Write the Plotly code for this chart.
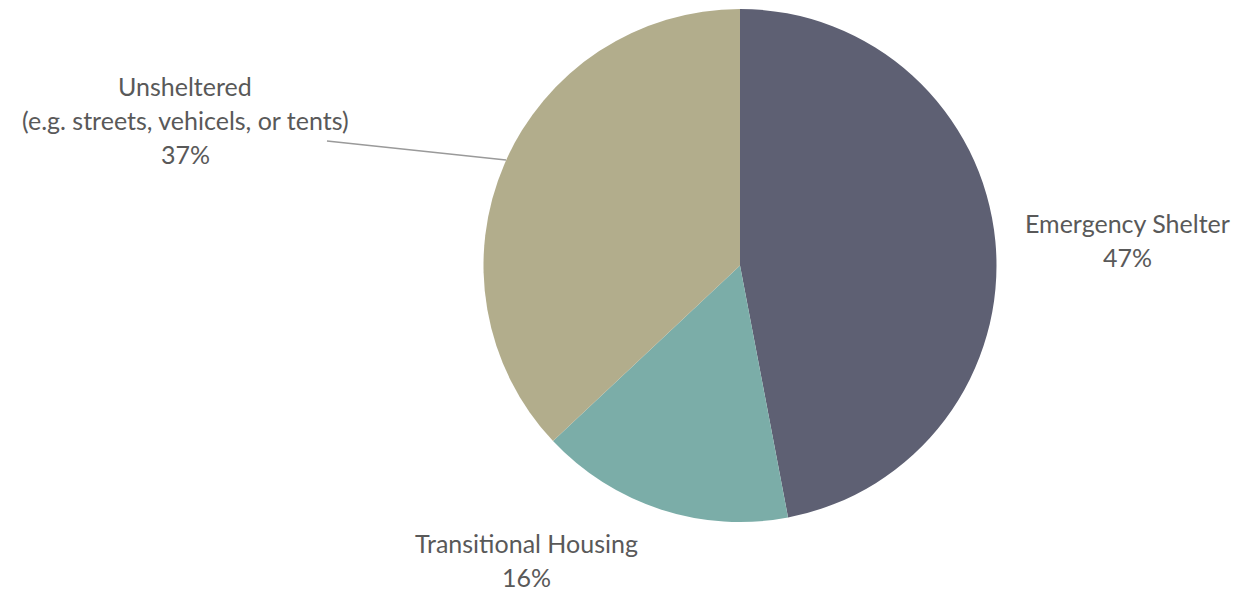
import plotly.graph_objects as go

categories = ["Emergency Shelter", "Transitional Housing", "Unsheltered"]
values = [47, 16, 37]
label_lines = [["Emergency Shelter"], ["Transitional Housing"],
               ["Unsheltered", "(e.g. streets, vehicels, or tents)"]]
colors = ["#5e6073", "#7bada8", "#b2ad8c"]

W, H = 1239, 591
cx, cy, r = 740, 265.5, 256.5

fig = go.Figure(go.Pie(
    labels=categories, values=values, sort=False, direction="clockwise",
    rotation=0, textinfo="none", hoverinfo="label+percent",
    marker=dict(colors=colors, line=dict(width=0)),
    domain=dict(x=[(cx - r) / W, (cx + r) / W], y=[1 - (cy + r) / H, 1 - (cy - r) / H]),
    showlegend=False,
))

# label block centres (pixels) and line spacing
label_pos = [(1127, 223), (526, 543), (185, 86)]
line_gap = 34
font = dict(family="Lato, sans-serif", size=25, color="#595959")
for cat_lines, val, (px, py) in zip(label_lines, values, label_pos):
    lines = cat_lines + [f"{val}%"]
    for i, t in enumerate(lines):
        fig.add_annotation(x=px / W, y=1 - (py + i * line_gap) / H, xref="paper", yref="paper",
                           text=t, showarrow=False, font=font, xanchor="center", yanchor="middle")

# leader line for Unsheltered
fig.add_shape(type="line", xref="paper", yref="paper",
              x0=327 / W, y0=1 - 141 / H, x1=506 / W, y1=1 - 160 / H,
              line=dict(color="#9a9a9a", width=1.5))

fig.update_layout(width=W, height=H, margin=dict(l=0, r=0, t=0, b=0),
                  paper_bgcolor="white", plot_bgcolor="white")
fig.write_html("out.html", config={"displayModeBar": False},
               post_script="document.body.style.margin='0';")
